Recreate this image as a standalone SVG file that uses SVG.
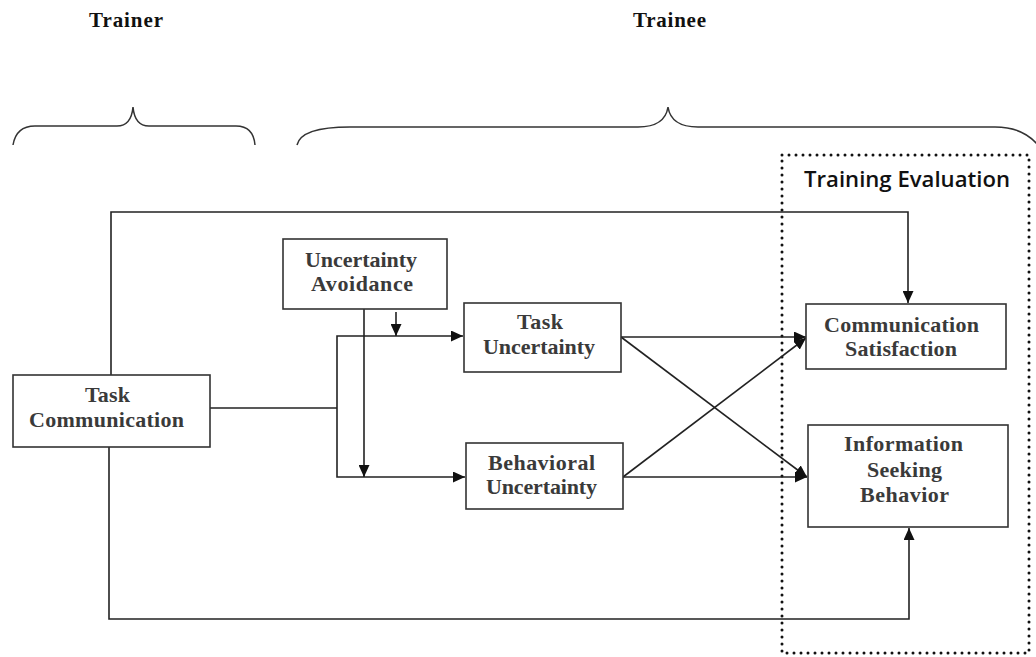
<svg xmlns="http://www.w3.org/2000/svg" width="1036" height="657" viewBox="0 0 1036 657">
<defs>
<marker id="ah" markerUnits="userSpaceOnUse" markerWidth="13" markerHeight="11" refX="12" refY="5.5" orient="auto">
<path d="M0,0 L12,5.5 L0,11 z" fill="#111"/>
</marker>
<style>
.box{fill:#fff;stroke:#333;stroke-width:1.6}
.lbl{font-family:"Liberation Serif","Times New Roman",serif;font-weight:bold;font-size:22px;fill:#3a3a3a}
.hdr{font-family:"Liberation Serif","Times New Roman",serif;font-weight:bold;font-size:21px;fill:#111}
.ln{fill:none;stroke:#222;stroke-width:1.6}
.arr{fill:none;stroke:#222;stroke-width:1.6;marker-end:url(#ah)}
.brace{fill:none;stroke:#333;stroke-width:1.5}
</style>
</defs>
<rect width="1036" height="657" fill="#fff"/>

<g id="headers">
<text class="hdr" x="89" y="27" textLength="74" lengthAdjust="spacing">Trainer</text>
<text class="hdr" x="633" y="27" textLength="73" lengthAdjust="spacing">Trainee</text>
<path class="brace" d="M13,145 C15,133 22,126 35,126 L117,126 C127,126 132,118 133,107 C134,118 139,126 149,126 L236,126 C248,126 254,133 255,145"/>
<path class="brace" d="M297,145 C300,132 320,127 350,127 L638,127 C656,127 666,120 668,107 C670,120 680,127 698,127 L995,127 C1018,127 1031,135 1040,148"/>
</g>

<g id="training-evaluation">
<rect x="782" y="155" width="247" height="498" fill="none" stroke="#111" stroke-width="3" stroke-linecap="round" stroke-dasharray="0 7"/>
<text x="804" y="187" font-family="'Open Sans','Liberation Sans',sans-serif" font-size="22" font-weight="600" fill="#111" textLength="206" lengthAdjust="spacingAndGlyphs">Training Evaluation</text>
</g>

<g id="connectors">
<path class="arr" d="M111,375 V212 H908 V303"/>
<path class="arr" d="M109,447 V619 H909 V528"/>
<path class="ln" d="M210,408 H337"/>
<path class="arr" d="M337,408 V336 H463"/>
<path class="arr" d="M337,408 V477 H465"/>
<path class="arr" d="M364,309 V477"/>
<path class="arr" d="M396,312 V336"/>
<path class="arr" d="M621,337 H806"/>
<path class="arr" d="M621,337 L807,477"/>
<path class="arr" d="M623,477 L806,338"/>
<path class="arr" d="M623,477 H807"/>
</g>

<g id="task-communication">
<rect class="box" x="13" y="375" width="197" height="72"/>
<text class="lbl" x="85" y="402" textLength="45" lengthAdjust="spacing">Task</text>
<text class="lbl" x="29" y="427" textLength="155" lengthAdjust="spacing">Communication</text>
</g>

<g id="uncertainty-avoidance">
<rect class="box" x="283" y="239" width="164" height="70"/>
<text class="lbl" x="305" y="267" textLength="112" lengthAdjust="spacing">Uncertainty</text>
<text class="lbl" x="311" y="291" textLength="102" lengthAdjust="spacing">Avoidance</text>
</g>

<g id="task-uncertainty">
<rect class="box" x="464" y="303" width="157" height="69"/>
<text class="lbl" x="517" y="329" textLength="46" lengthAdjust="spacing">Task</text>
<text class="lbl" x="483" y="354" textLength="112" lengthAdjust="spacing">Uncertainty</text>
</g>

<g id="behavioral-uncertainty">
<rect class="box" x="466" y="443" width="157" height="66"/>
<text class="lbl" x="488" y="470" textLength="107" lengthAdjust="spacing">Behavioral</text>
<text class="lbl" x="486" y="494" textLength="111" lengthAdjust="spacing">Uncertainty</text>
</g>

<g id="communication-satisfaction">
<rect class="box" x="806" y="304" width="200" height="65"/>
<text class="lbl" x="824" y="332" textLength="155" lengthAdjust="spacing">Communication</text>
<text class="lbl" x="845" y="356" textLength="112" lengthAdjust="spacing">Satisfaction</text>
</g>

<g id="information-seeking-behavior">
<rect class="box" x="808" y="425" width="200" height="102"/>
<text class="lbl" x="844" y="451" textLength="119" lengthAdjust="spacing">Information</text>
<text class="lbl" x="867" y="477" textLength="75" lengthAdjust="spacing">Seeking</text>
<text class="lbl" x="860" y="502" textLength="89" lengthAdjust="spacing">Behavior</text>
</g>
</svg>
